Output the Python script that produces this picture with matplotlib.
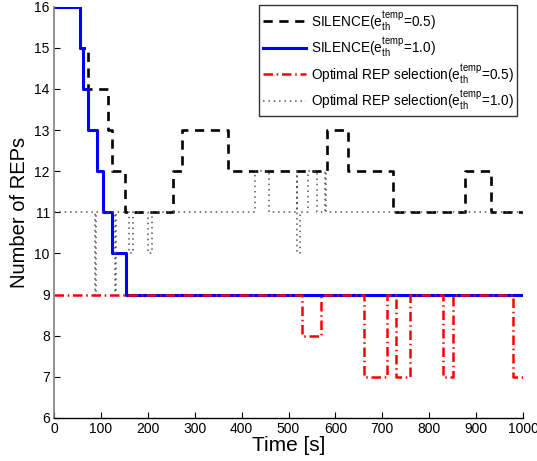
import matplotlib
matplotlib.use("Agg")
import matplotlib.pyplot as plt

plt.rcParams['font.family'] = ['Liberation Sans', 'DejaVu Sans']
plt.rcParams['mathtext.fontset'] = 'custom'
plt.rcParams['mathtext.rm'] = 'Liberation Sans'
plt.rcParams['mathtext.it'] = 'Liberation Sans:italic'

# SILENCE (e=0.5)
sil05_t = [0, 55, 72, 116, 124, 151, 253, 272, 372, 581, 626, 723, 876, 931, 1000]
sil05_v = [16, 15, 14, 13, 12, 11, 12, 13, 12, 13, 12, 11, 12, 11, 11]
# SILENCE (e=1.0)
sil10_t = [0, 55, 62, 73, 92, 105, 124, 153, 1000]
sil10_v = [16, 15, 14, 13, 12, 11, 10, 9, 9]
# Optimal (e=0.5)
opt05_t = [0, 529, 569, 660, 709, 729, 760, 830, 850, 979, 1000]
opt05_v = [9, 8, 9, 7, 9, 7, 9, 7, 9, 7, 7]
# Optimal (e=1.0)
opt10_t = [0, 87, 89, 130, 132, 160, 169, 201, 208, 429, 459, 517, 519, 525, 541, 560, 578, 580, 1000]
opt10_v = [11, 9, 11, 9, 11, 10, 11, 10, 11, 12, 11, 12, 10, 11, 12, 11, 12, 11, 11]

labels = [r'SILENCE(e$_{\mathrm{th}}^{\mathrm{temp}}$=0.5)',
          r'SILENCE(e$_{\mathrm{th}}^{\mathrm{temp}}$=1.0)',
          r'Optimal REP selection(e$_{\mathrm{th}}^{\mathrm{temp}}$=0.5)',
          r'Optimal REP selection(e$_{\mathrm{th}}^{\mathrm{temp}}$=1.0)']

fig = plt.figure(figsize=(5.37, 4.61), dpi=100)
ax = fig.add_axes([0.1006, 0.0933, 0.8734, 0.8924])

ax.step(sil05_t, sil05_v, where='post', color='black', lw=1.9, linestyle=(0, (3.5, 2.5)), label=labels[0])
ax.step(sil10_t, sil10_v, where='post', color='#0000ff', lw=2.2, linestyle='-', label=labels[1])
ax.step(opt05_t, opt05_v, where='post', color='#ff0000', lw=1.8, linestyle=(0, (3.8, 1.5, 0.6, 1.5)), label=labels[2])
ax.step(opt10_t, opt10_v, where='post', color='#555555', lw=1.1, linestyle=(0, (1, 2.5)), label=labels[3])

ax.set_xlim(0, 1000)
ax.set_ylim(6, 16)
ax.set_xticks(range(0, 1001, 100))
ax.set_yticks(range(6, 17))
ax.tick_params(direction='in', labelsize=10, length=4, width=0.8, pad=3)
ax.spines['top'].set_visible(False)
ax.spines['right'].set_visible(False)
ax.spines['left'].set_color('#808080')
ax.spines['left'].set_linewidth(1.2)
ax.spines['bottom'].set_linewidth(1.0)

ax.set_xlabel('Time [s]', fontsize=15, labelpad=0)
ax.set_ylabel('Number of REPs', fontsize=14.5, labelpad=4)

leg = ax.legend(loc='upper right', fontsize=9.8, frameon=True, fancybox=False,
                edgecolor='black', handlelength=3.2, handletextpad=0.3,
                borderpad=0.3, labelspacing=0.22, borderaxespad=0.0,
                bbox_to_anchor=(0.988, 1.004))
leg.get_frame().set_linewidth(1.0)

fig.savefig('out.png', dpi=100)
